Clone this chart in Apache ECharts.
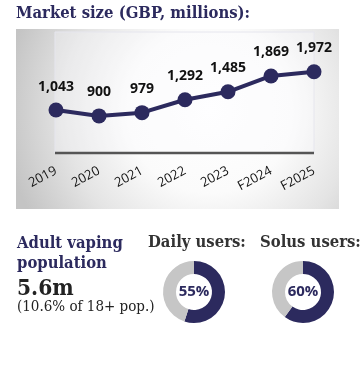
<!DOCTYPE html>
<html>
<head>
<meta charset="utf-8">
<script src="https://cdn.jsdelivr.net/npm/echarts@6/dist/echarts.min.js"></script>
<style>
html,body{margin:0;padding:0;background:#fff;}
#main{width:364px;height:372px;}
</style>
</head>
<body>
<div id="main"></div>
<script>
var years = ['2019', '2020', '2021', '2022', '2023', 'F2024', 'F2025'];
var marketSize = [1043, 900, 979, 1292, 1485, 1869, 1972];
var dailyUsersPct = 55;
var solusUsersPct = 60;

var NAVY = '#2c2a5e';
var GRAY = '#c6c6c6';
var SERIF_C = '"DejaVu Serif Condensed", "DejaVu Serif", serif';
var chart = echarts.init(document.getElementById('main'), null, {renderer: 'canvas'});

function donut(center, pct) {
  return {
    type: 'pie',
    center: center,
    radius: [18, 31],
    startAngle: 90,
    clockwise: true,
    silent: true,
    label: {show: false},
    labelLine: {show: false},
    data: [
      {value: pct, itemStyle: {color: NAVY}},
      {value: 100 - pct, itemStyle: {color: GRAY}}
    ]
  };
}

function txt(left, top, text, size, weight, color, family, extra) {
  var s = {text: text, fill: color, fontFamily: family, fontSize: size, fontWeight: weight};
  if (extra) { for (var k in extra) s[k] = extra[k]; }
  return {type: 'text', left: left, top: top, style: s};
}

chart.setOption({
  animation: false,
  grid: {left: 56, right: 50, top: 50, bottom: 219, containLabel: false},
  xAxis: {
    type: 'category',
    data: years,
    boundaryGap: false,
    axisLine: {show: false},
    axisTick: {show: false},
    axisLabel: {
      rotate: 28,
      margin: 17,
      color: '#111',
      fontFamily: 'Open Sans',
      fontSize: 13
    }
  },
  yAxis: {
    type: 'value',
    min: 0,
    max: 2500,
    show: false
  },
  graphic: [
    {
      type: 'rect', z: -20,
      shape: {x: 16, y: 29, width: 323, height: 180},
      style: {
        fill: new echarts.graphic.RadialGradient(0.6, 0.45, 1.15, [
          {offset: 0, color: '#ffffff'},
          {offset: 0.4, color: '#fbfbfb'},
          {offset: 0.7, color: '#e4e4e4'},
          {offset: 1, color: '#c4c4c4'}
        ])
      }
    },
    {
      type: 'rect', z: -19,
      shape: {x: 55, y: 32, width: 259, height: 121},
      style: {fill: 'rgba(252,252,255,0.3)', stroke: '#e6e6ee', lineWidth: 1}
    },
    {
      type: 'line', z: -18,
      shape: {x1: 55, y1: 153, x2: 314, y2: 153},
      style: {stroke: '#555555', lineWidth: 2.5}
    },
    txt(16, 5, 'Market size (GBP, millions):', 16.5, 'bold', NAVY, SERIF_C),
    txt(17, 234, 'Adult vaping\npopulation', 16.5, 'bold', NAVY, SERIF_C, {lineHeight: 20}),
    txt(17, 278, '5.6m', 22.5, 'bold', '#222222', SERIF_C),
    txt(17, 300, '(10.6% of 18+ pop.)', 15, 'normal', '#222222', SERIF_C),
    txt(148, 234, 'Daily users:', 16.5, 'bold', '#333333', SERIF_C),
    txt(260, 234, 'Solus users:', 16.5, 'bold', '#333333', SERIF_C),
    {
      type: 'text', x: 194, y: 292,
      style: {text: dailyUsersPct + '%', fill: NAVY, fontFamily: 'Open Sans', fontWeight: 'bold', fontSize: 15, align: 'center', verticalAlign: 'middle'}
    },
    {
      type: 'text', x: 303, y: 292,
      style: {text: solusUsersPct + '%', fill: NAVY, fontFamily: 'Open Sans', fontWeight: 'bold', fontSize: 15, align: 'center', verticalAlign: 'middle'}
    }
  ],
  series: [
    {
      type: 'line',
      data: marketSize,
      symbol: 'circle',
      symbolSize: 15,
      lineStyle: {color: NAVY, width: 4},
      itemStyle: {color: NAVY},
      label: {
        show: true,
        position: 'top',
        distance: 9,
        color: '#111',
        fontFamily: 'Open Sans',
        fontWeight: 'bold',
        fontSize: 14,
        formatter: function (p) { return p.value.toLocaleString('en-US'); }
      }
    },
    donut([194, 292], dailyUsersPct),
    donut([303, 292], solusUsersPct)
  ]
});
</script>
</body>
</html>
